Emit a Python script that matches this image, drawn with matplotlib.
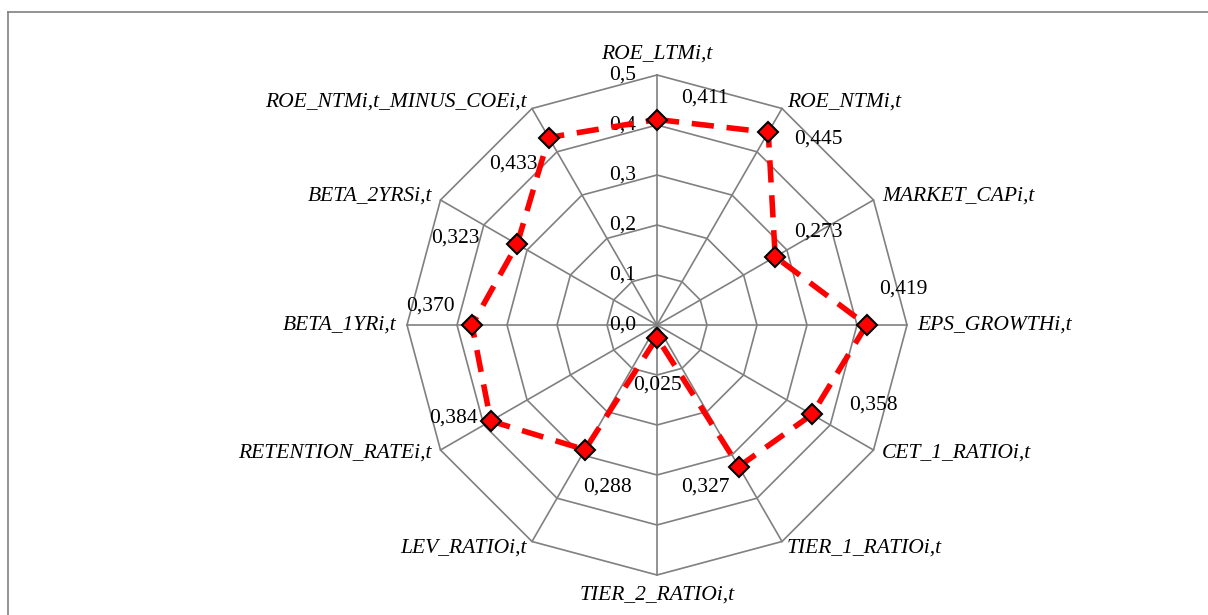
import numpy as np
import matplotlib
matplotlib.use('Agg')
import matplotlib.pyplot as plt
from matplotlib.lines import Line2D

plt.rcParams['font.family'] = ['Liberation Serif', 'DejaVu Serif']

# data
categories = ['ROE_LTMi,t', 'ROE_NTMi,t', 'MARKET_CAPi,t', 'EPS_GROWTHi,t',
              'CET_1_RATIOi,t', 'TIER_1_RATIOi,t', 'TIER_2_RATIOi,t',
              'LEV_RATIOi,t', 'RETENTION_RATEi,t', 'BETA_1YRi,t',
              'BETA_2YRSi,t', 'ROE_NTMi,t_MINUS_COEi,t']
values = [0.411, 0.445, 0.273, 0.419, 0.358, 0.327, 0.025,
          0.288, 0.384, 0.370, 0.323, 0.433]
value_labels = ['0,411', '0,445', '0,273', '0,419', '0,358', '0,327', '0,025',
                '0,288', '0,384', '0,370', '0,323', '0,433']
ticks = [0.0, 0.1, 0.2, 0.3, 0.4, 0.5]
tick_labels = ['0,0', '0,1', '0,2', '0,3', '0,4', '0,5']

# label offsets in pixels (layout only)
val_off = [(48, 21), (50, -7), (43, 25), (37, 36), (61, 9), (-33, -20),
           (0, -48), (23, -37), (-37, 3), (-42, 19), (-62, 6), (-35, -27)]

W, H = 1208, 615
fig = plt.figure(figsize=(W / 100, H / 100), dpi=100)
ax = fig.add_axes([0, 0, 1, 1])
cx, cy, scale = 657, 325, 500.0
ax.set_xlim(-cx / scale, (W - cx) / scale)
ax.set_ylim(-(H - cy) / scale, cy / scale)
ax.axis('off')

n = len(categories)
ang = np.arange(n) * 2 * np.pi / n
sx, sy = np.sin(ang), np.cos(ang)
grid_c = '#808080'
rmax = ticks[-1]

for t in ticks[1:]:
    ax.plot(np.append(sx, sx[0]) * t, np.append(sy, sy[0]) * t,
            color=grid_c, lw=1.2, zorder=1)
for i in range(n):
    ax.plot([0, sx[i] * rmax], [0, sy[i] * rmax], color=grid_c, lw=1.2, zorder=1)

for t, lab in zip(ticks, tick_labels):
    ax.annotate(lab, (0, t), xytext=(-21, 0), textcoords='offset pixels',
                ha='right', va='center', fontsize=15.5)

v = np.array(values)
ax.plot(np.append(sx * v, sx[0] * v[0]), np.append(sy * v, sy[0] * v[0]),
        color='#ff0000', lw=4, dashes=(4, 2.3), zorder=3)
ax.plot(sx * v, sy * v, ls='none', marker='D', ms=10, mfc='#ff0000',
        mec='black', mew=1.5, zorder=4)

for i in range(n):
    ax.annotate(value_labels[i], (sx[i] * v[i], sy[i] * v[i]),
                xytext=val_off[i], textcoords='offset pixels',
                ha='center', va='center', fontsize=15.5)

for i in range(n):
    s, c = sx[i], sy[i]
    if abs(s) < 1e-6:
        ha = 'center'
        off = (0, 21 if c > 0 else -20)
    else:
        ha = 'left' if s > 0 else 'right'
        off = (10 * s, 7 * c)
    ax.annotate(categories[i], (s * rmax, c * rmax), xytext=off,
                textcoords='offset pixels', ha=ha, va='center',
                fontsize=15.5, style='italic')

# chart border
fig.add_artist(Line2D([8 / W, 8 / W], [0, 1 - 12 / H], color='#808080', lw=1.2,
                      transform=fig.transFigure))
fig.add_artist(Line2D([8 / W, 1], [1 - 12 / H, 1 - 12 / H], color='#808080',
                      lw=1.2, transform=fig.transFigure))

fig.savefig('out.png', dpi=100)
